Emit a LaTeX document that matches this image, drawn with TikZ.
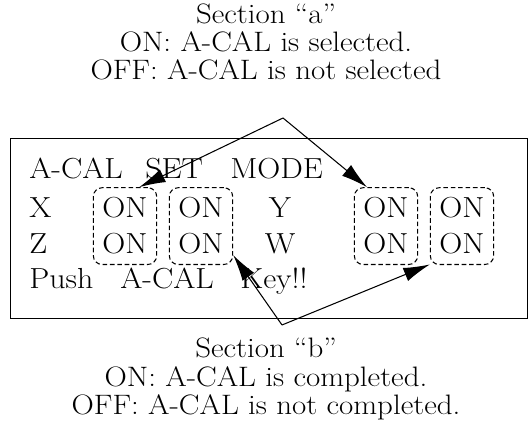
\documentclass[tikz,border=0pt]{standalone}
\usepackage{fontspec}
\setmainfont{Latin Modern Roman}[FakeStretch=1.1]
\usetikzlibrary{arrows.meta,fit}
\tikzset{
  lbl/.style={inner sep=0pt, font=\fontsize{16}{18}\selectfont},
  disp/.style={inner sep=0pt, font=\fontsize{16.5}{18}\selectfont},
  onbox/.style={draw, line width=0.6pt, dash pattern=on 2.6pt off 1.6pt,
    rounded corners=5pt, inner xsep=5pt, inner ysep=5.5pt},
  ptr/.style={line width=0.6pt, -{Latex[length=15pt,width=8pt]}},
}
\begin{document}
\begin{tikzpicture}[x=0.02cm, y=-0.02cm]
\useasboundingbox (0,0) rectangle (531,428);

% captions
\node[lbl, anchor=base] (secA) at (266,24) {Section ``a''};
\node[lbl, anchor=base] (secAon) at (266,52) {ON: A-CAL is selected.};
\node[lbl, anchor=base] (secAoff) at (266,80) {OFF: A-CAL is not selected};

\node[lbl, anchor=base] (secB) at (266,358) {Section ``b''};
\node[lbl, anchor=base] (secBon) at (266,387) {ON: A-CAL is completed.};
\node[lbl, anchor=base] (secBoff) at (266,415) {OFF: A-CAL is not completed.};

% display panel
\draw[line width=0.5pt] (10,138) rectangle (527,318);

\node[disp, anchor=base west] (acal) at (29,179) {A-CAL};
\node[disp, anchor=base west] (set) at (145,179) {SET};
\node[disp, anchor=base west] (mode) at (230,179) {MODE};

\node[disp, anchor=base west] (xx) at (29,218) {X};
\node[disp, anchor=base] (on11) at (125,218) {ON};
\node[disp, anchor=base] (on12) at (201,218) {ON};
\node[disp, anchor=base] (yy) at (280,218) {Y};
\node[disp, anchor=base] (on13) at (386,218) {ON};
\node[disp, anchor=base] (on14) at (462,218) {ON};

\node[disp, anchor=base west] (zz) at (29,254) {Z};
\node[disp, anchor=base] (on21) at (125,254) {ON};
\node[disp, anchor=base] (on22) at (201,254) {ON};
\node[disp, anchor=base] (ww) at (280,254) {W};
\node[disp, anchor=base] (on23) at (386,254) {ON};
\node[disp, anchor=base] (on24) at (462,254) {ON};

\node[disp, anchor=base west] (push) at (29,289) {Push};
\node[disp, anchor=base west] (pacal) at (120,289) {A-CAL};
\node[disp, anchor=base west] (key) at (240,289) {Key!!};

% dashed groups
\node[onbox, fit=(on11)(on21)] (b1) {};
\node[onbox, fit=(on12)(on22)] (b2) {};
\node[onbox, fit=(on13)(on23)] (b3) {};
\node[onbox, fit=(on14)(on24)] (b4) {};

% pointers
\coordinate (apexA) at (283,118);
\coordinate (apexB) at (282,325);
\draw[ptr] (apexA) -- (b1.70);
\draw[ptr] (apexA) -- (b3.116);
\draw[ptr] (apexB) -- (b2.-42);
\draw[ptr] (apexB) -- (b4.230);

\end{tikzpicture}
\end{document}
